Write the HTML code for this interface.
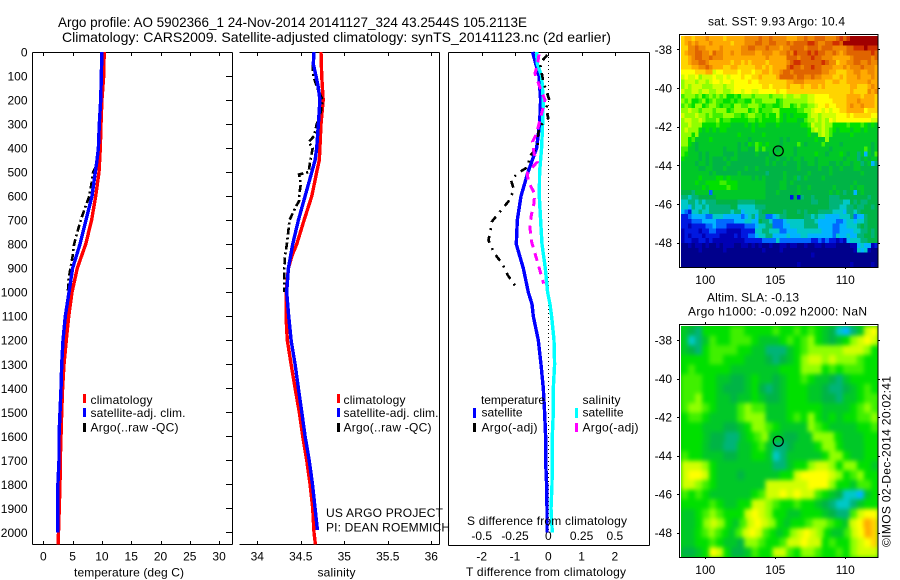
<!DOCTYPE html>
<html>
<head>
<meta charset="utf-8">
<title>Argo profile</title>
<style>
html,body{margin:0;padding:0;background:#fff;}
svg{display:block;}
text{font-family:"Liberation Sans",sans-serif;font-size:12px;fill:#000;}
.t{font-size:14px;}
.crisp{shape-rendering:crispEdges;}
</style>
</head>
<body>
<svg id="fig" xmlns="http://www.w3.org/2000/svg" width="900" height="580" viewBox="0 0 900 580">
<defs>
<clipPath id="clipSlaMap"><rect x="681" y="326" width="197" height="231"/></clipPath>
</defs>
<rect width="900" height="580" fill="#fff"/>
<text class="t" x="58" y="27" textLength="469" lengthAdjust="spacingAndGlyphs">Argo profile: AO 5902366_1 24-Nov-2014 20141127_324 43.2544S 105.2113E</text>
<text class="t" x="62" y="42" textLength="549" lengthAdjust="spacingAndGlyphs">Climatology: CARS2009. Satellite-adjusted climatology: synTS_20141123.nc (2d earlier)</text>

<g id="layerMaps"></g>
<g id="layerAxes"></g>
<g id="layerSeries"></g>

<g>
<rect class="crisp" x="83" y="394" width="3" height="9" fill="#f00"/>
<rect class="crisp" x="83" y="408" width="3" height="9" fill="#00f"/>
<rect class="crisp" x="83" y="423" width="3" height="9" fill="#000"/>
<text x="90.5" y="404" textLength="62">climatology</text>
<text x="90.5" y="417" textLength="95">satellite-adj. clim.</text>
<text x="90.5" y="431.5" textLength="88">Argo(..raw -QC)</text>
</g>
<g>
<rect class="crisp" x="337" y="394" width="3" height="9" fill="#f00"/>
<rect class="crisp" x="337" y="408" width="3" height="9" fill="#00f"/>
<rect class="crisp" x="337" y="423" width="3" height="9" fill="#000"/>
<text x="343.5" y="404" textLength="62">climatology</text>
<text x="343.5" y="417" textLength="95">satellite-adj. clim.</text>
<text x="343.5" y="431.5" textLength="88">Argo(..raw -QC)</text>
</g>
<g>
<text x="326" y="517" textLength="117">US ARGO PROJECT</text>
<text x="326" y="531.5" textLength="124">PI: DEAN ROEMMICH</text>
</g>
<g>
<text x="481" y="404" textLength="64">temperature</text>
<rect class="crisp" x="473" y="408" width="3" height="10" fill="#00f"/>
<rect class="crisp" x="473" y="423" width="3" height="9" fill="#000"/>
<text x="481.5" y="416.5" textLength="41">satellite</text>
<text x="481.5" y="431.5" textLength="56">Argo(-adj)</text>
<text x="582.5" y="404" textLength="38">salinity</text>
<rect class="crisp" x="575" y="408" width="3" height="10" fill="#0ff"/>
<rect class="crisp" x="575" y="423" width="3" height="9" fill="#f0f"/>
<text x="582.5" y="416.5" textLength="41">satellite</text>
<text x="582.5" y="431.5" textLength="56">Argo(-adj)</text>
</g>
<text x="467" y="525" textLength="160">S difference from climatology</text>
<text x="466" y="576" textLength="160">T difference from climatology</text>
<text x="74" y="576.5" textLength="110">temperature (deg C)</text>
<text x="317.5" y="576.5" textLength="38">salinity</text>
<text x="708" y="25.5" textLength="137">sat. SST: 9.93 Argo: 10.4</text>
<text x="707" y="301.5" textLength="92">Altim. SLA: -0.13</text>
<text x="688" y="315.5" textLength="179">Argo h1000: -0.092 h2000: NaN</text>
<text transform="translate(890.5,547) rotate(-90)" x="0" y="0" textLength="171">©IMOS 02-Dec-2014 20:02:41</text>
</svg>
<script>
// ---- profile data ----
const depthT = [0,100,200,300,400,450,500,600,700,800,900,1000,1100,1200,1300,1400,1500,1600,1700,1800,2000];
const tempSatellite = [10.0,9.9,9.8,9.56,9.4,9.16,8.88,8.31,7.29,6.26,5.0,4.39,3.76,3.36,3.14,3.02,2.85,2.68,2.68,2.5,2.5];
const depthTClim = [0,100,200,300,400,500,600,700,800,900,1000,1032,1100,1200,1300,1400,1500,1600,1700,1800,2000,2050];
const tempClim = [10.4,10.3,10.0,9.85,9.73,9.5,8.94,8.25,7.24,5.8,4.9,4.73,4.33,3.93,3.53,3.3,3.14,3.02,2.9,2.85,2.6,2.55];
const depthTArgo = [480,500,550,600,650,700,750,800,850,900,950,1000];
const tempArgo = [8.9,8.5,8.2,7.85,7.1,6.4,5.8,5.25,5.0,4.65,4.3,4.2];

const depthSSat = [0,50,100,150,200,300,400,450,500,600,700,800,900,1000,1100,1200,1300,1400,1500,1600,1700,1800,1900,1990];
const salSatellite = [34.652,34.644,34.675,34.702,34.72,34.702,34.683,34.664,34.626,34.549,34.472,34.407,34.357,34.338,34.361,34.388,34.434,34.472,34.511,34.549,34.596,34.634,34.664,34.691];
const depthSClim = [0,100,200,300,400,450,500,600,700,800,850,900,1000,1100,1200,1300,1400,1500,1600,1700,1800,1900,2000,2050];
const salClim = [34.732,34.74,34.758,34.732,34.72,34.713,34.683,34.626,34.538,34.453,34.396,34.357,34.33,34.33,34.345,34.388,34.434,34.483,34.522,34.568,34.607,34.637,34.652,34.668];
const depthSArgo = [50,100,150,200,250,300,350,375,400,450,500,510,550,600,620,650,700,800,850,900,950,1000];
const salArgo = [34.637,34.644,34.69,34.75,34.73,34.683,34.652,34.591,34.637,34.61,34.59,34.48,34.5,34.48,34.48,34.434,34.37,34.34,34.318,34.31,34.31,34.31];

const depthDiffT = [0,100,200,300,400,500,600,700,800,900,1000,1050,1100,1200,1300,1400,1500,1600,1700,1800,1900,2000];
const diffTSatellite = [-0.47,-0.28,-0.23,-0.26,-0.35,-0.61,-0.82,-0.93,-0.96,-0.75,-0.6,-0.49,-0.45,-0.3,-0.22,-0.15,-0.11,-0.08,-0.08,-0.05,-0.04,-0.04];
const depthDiffS = [0,50,100,200,300,400,500,600,700,800,900,1000,1050,1100,1200,1300,1400,1500,1600,1700,1800,1900,2000];
const diffSSatellite = [-0.0875,-0.0825,-0.05,-0.0375,-0.0425,-0.05,-0.065,-0.0675,-0.0575,-0.0475,-0.0225,-0.005,0.0125,0.025,0.0425,0.0475,0.0375,0.0375,0.03,0.03,0.0275,0.02,0.03];
const depthDiffSArgo = [10,50,89,137,200,283,339,373,422,457,505,540,589,630,686,735,790,853,901,964];
const diffSArgo = [-0.07,-0.08,-0.1,-0.07,-0.025,-0.0625,-0.0875,-0.1175,-0.1075,-0.0825,-0.1575,-0.15,-0.1025,-0.1075,-0.13,-0.1375,-0.125,-0.0925,-0.0675,-0.035];
const depthDiffTArgo = [12,47,124,200,235,276,311,367,394,436,478,503,533,575,623,665,707,742,783,839,881,929,978];
const diffTArgo = [-0.03,-0.25,-0.15,0.03,-0.07,0.0,-0.27,-0.33,-0.31,-0.57,-0.6,-0.9,-1.12,-1.03,-1.2,-1.45,-1.7,-1.73,-1.8,-1.62,-1.38,-1.22,-0.97];

// ---- tick labels ----
const depthTicks = [0,100,200,300,400,500,600,700,800,900,1000,1100,1200,1300,1400,1500,1600,1700,1800,1900,2000];
const tempTicks = [0,5,10,15,20,25,30];
const salTicks = [34,34.5,35,35.5,36];
const diffTTicks = [-2,-1,0,1,2];
const diffSTicks = [-0.5,-0.25,0,0.25,0.5];
const diffSTickLabels = ['-0.5','-0.25','0','0.25','0.5'];
const lonTicks = [100,105,110];
const latTicks = [-38,-40,-42,-44,-46,-48];

// ---- float location ----
const floatLon = 105.2113;
const floatLat = -43.2544;

// ---- heatmap levels: one character per cell, see levelColors ----
const levelColors = {
 '0':'#00008c','1':'#0000b4','2':'#0018e0','3':'#0068ff','4':'#00b4ff','5':'#00c8c8',
 '6':'#00b478','7':'#00b446','8':'#00c828','9':'#00e000','a':'#40f000','b':'#90ff00',
 'c':'#d0ff00','d':'#ffff00','e':'#ffd400','f':'#ffaa00','g':'#f08800','h':'#e06400',
 'i':'#d03000','j':'#a00000'
};
const sstRows = [
"effefffgffffefffffgggghgghggggfffgghgghhhggghihijjjjjjjj",
"efgfgfffgfffffefffggghhgghhggghghhhhiihgghhiihjjjjjjjjjj",
"eegghggffffgfffffgghhggghgggfgghhhhghhhghhhgggghhiiijiii",
"efgghhggfhggffgffggggffgggffgghgihhhihihhgghgfghhhhhhhih",
"eefghhgghgggffffffffffffgfffffhhhghhhihhgggfffffghhhhhgh",
"eefgghhgffffffeffefeffffefffffghiihhhhhhihggeffgghhgghgg",
"eeeffgghgfffeeffeeeeeffefeffffhihhghhihhgggfffgfggghgggf",
"ddddeeeffcddeeeedeeedeeffeffghhghhhhhhhhggffeeeffggffggf",
"cdccdbcccdccdcdddeddeefeeeefhhhhghhgghggfffeefefffgfffgf",
"bcccbccbcddcddcddddeddeeeeeeeeffgggffffffeeffeeffffffgff",
"bcbcccbbbcccbccddddddddeedeeeefeeefeeffefeeeeeeeffeeefgf",
"cbbccbccbbccbbcddcddccdddddeddeeeeeeeeeeeeeeeeeefeeeegfg",
"abbbab9ababab99a9bbbabbbbabbbcbbccbbccddddeeeeeffffefffe",
"bab99ab9abaa99a9aa99baabbbb9abbbbbbbccdddddeeeefffgffffe",
"aba9bb9abba9aa9bbaabbba9aa99abb9abaabbcddeddeeefgffgfffe",
"bbcbbabbbabbb9abbbb9ab9aaabb99999aabbcddcdcddeefffffdeee",
"cbbbcbbabaaabbbaa9abbaa9a99b98989999bccbccccdddedeeeeedd",
"bccbbcbaaab9aa99999aa9a9999a9899988abbcbcbdcddddddddddcc",
"bbcbbb9999a9998888989899888988888899acbbcbb9999a999a9898",
"bcbbb98989899888888898888888888888889bcbcba9899989989888",
"bbb9b8888888888898888889888888888888988bcba8888898888888",
"bb9a8888988888888887888888887878888888988b88888888888888",
"bb9878888888888878798a98988878888a878888a888878888888878",
"aa8878888888788878877a8a8887888878888888887888888888a878",
"a988878788887778777778777878888878888898878889878868487a",
"98888787877787887777777787787787887888788888887888678788",
"88887887877778777777777787877877787788788877878878867846",
"88888778877787777787787777777777787777787787787778877777",
"88888888787777778777777767777877777787777787777777787777",
"88888988889989888888787877777877867877778777777777777777",
"88889889999aa9998888888877778878777777777777777778777777",
"8888889899999a998888888877778877787787777778777787887777",
"77768888388888888888888877787777787777777787876774787777",
"66566777778888888888888877777772726776777766677777777677",
"55665656667777776666677777777777777776677766665576766777",
"55465565666666775555566677777777777777777766655667667767",
"43255655666666566455556777777677767677766665554665677777",
"22344443355544444345646633456677777665655444455563446777",
"22233344443333344455447665333455555666544444334554556777",
"22122223343332222233345566333445555666644443344555676777",
"12222122332221111222255665553344455555554443344445566767",
"12122212222111121223345566444454445544444443544544667767",
"12211221211111111122222333353333333332232322121455566777",
"00101101001011100110101001001101100100110111000011454412",
"00000100000010000000000100001000000000000000000001545100",
"00000000000000000000000000000000000001000000000000000000",
"00000000000000000000000000000000000000000000000000000000",
"00000000000000000000000000000000010000000000000010000010"
];
const slaRows = [
"8769999aa9999a99a9a9875468cd",
"8568a99aaa98889a9ab98789bcdc",
"8769aaaa998866689abbbbbcccb9",
"9999aa99988876789bccbcbbba99",
"9a999998888888999bbb9a9aaa99",
"aaa99887789887899a9887689999",
"aaa99877789767899988766789a9",
"aab99887889877899988776889aa",
"abba9888abaa8889999988889aba",
"9aa98888abbb8889a9b989899aab",
"9998887789bba98888ba9888899a",
"9998776689ab887788bbb988899",
"99987766889a86678889bb988899",
"a99888778899856888889bb98899",
"cccb98888888866899bccb9bb998",
"cddc988878888899cddddcb9ab99",
"ccba98888888ccccccdddb998aa9",
"a9a98888889accdcdcca98755489",
"9999a98899ccba99a99876556899",
"889aba999cdcb99889998766acdd",
"889bcb98acdcb9899abba98cdfe",
"889aba98acdca989bcdcb988acdfe",
"8899a9887bba99accdcc9a99bcde",
"7789dc9778a99cca9bba99a9bccc"
];

// ---- helpers and axis functions ----
const NS = 'http://www.w3.org/2000/svg';
const layerMaps = document.getElementById('layerMaps');
const layerAxes = document.getElementById('layerAxes');
const layerSeries = document.getElementById('layerSeries');
function mk(tag, attrs, parent) {
  const n = document.createElementNS(NS, tag);
  for (const k in attrs) n.setAttribute(k, attrs[k]);
  parent.appendChild(n);
  return n;
}
const yDepth = d => 52 + d * 0.2402;
const xTemp = v => 43.3 + v * 5.86;
const xSal = v => 257.3 + (v - 34) * 87;
const xDiffT = v => 548.3 + v * 33.3;
const xDiffS = v => 548.3 + v * 133.2;
const xLon = v => 775.3 + (v - 105) * 14;
const ySst = v => 49.3 + (-38 - v) * 19.34;
const ySla = v => 340 + (-38 - v) * 19.27;

function drawLine(xFn, xs, ds, color, width, dash, name) {
  const pts = ds.map((d, i) => xFn(xs[i]).toFixed(1) + ',' + yDepth(d).toFixed(1)).join(' ');
  const line = mk('polyline', {points: pts, fill: 'none', stroke: color, 'stroke-width': width, 'shape-rendering': 'crispEdges'}, layerSeries);
  if (dash) line.setAttribute('stroke-dasharray', dash);
  
  
}
function seg(x1, y1, x2, y2, parent) {
  const l = mk('line', {x1, y1, x2, y2, stroke: '#000', 'stroke-width': 1, 'shape-rendering': 'crispEdges'}, parent);
  
  
  return l;
}
function label(x, y, str, anchor) {
  const t = mk('text', {x, y, 'text-anchor': anchor}, layerAxes);
  t.textContent = str;
  
  
  return t;
}

// ---- panel frames ----
seg(32.5, 52.5, 232.5, 52.5, layerAxes);
seg(32.5, 544.5, 232.5, 544.5, layerAxes);
seg(32.5, 52.5, 32.5, 544.5, layerAxes);
seg(232.5, 52.5, 232.5, 544.5, layerAxes);
seg(239.5, 52.5, 439.5, 52.5, layerAxes);
seg(239.5, 544.5, 439.5, 544.5, layerAxes);
seg(439.5, 52.5, 439.5, 544.5, layerAxes);
seg(448.5, 52.5, 649.5, 52.5, layerAxes);
seg(448.5, 545.5, 649.5, 545.5, layerAxes);
seg(448.5, 52.5, 448.5, 545.5, layerAxes);
seg(649.5, 52.5, 649.5, 545.5, layerAxes);

// ---- ticks ----
depthTicks.forEach(d => {
  const y = Math.round(yDepth(d)) + 0.5;
  seg(226, y, 232, y, layerAxes);
  label(27.5, yDepth(d) + 4.5, String(d), 'end');
});
tempTicks.forEach(v => {
  const x = Math.round(xTemp(v)) + 0.5;
  seg(x, 52, x, 56, layerAxes);
  seg(x, 541, x, 545, layerAxes);
  label(xTemp(v), 560.5, String(v), 'middle');
});
salTicks.forEach(v => {
  const x = Math.round(xSal(v)) + 0.5;
  seg(x, 52, x, 56, layerAxes);
  seg(x, 541, x, 545, layerAxes);
  label(xSal(v), 560.5, String(v), 'middle');
});
diffTTicks.forEach(v => {
  const x = Math.round(xDiffT(v)) + 0.5;
  seg(x, 52, x, 56, layerAxes);
  label(xDiffT(v), 560.5, String(v), 'middle');
});
diffSTicks.forEach((v, i) => {
  label(xDiffS(v), 540, diffSTickLabels[i], 'middle');
});

// ---- zero line ----
const zeroLine = mk('line', {x1: xDiffT(0), y1: 53, x2: xDiffT(0), y2: yDepth(2000), stroke: '#000', 'stroke-width': 1, 'stroke-dasharray': '1 3', 'shape-rendering': 'crispEdges'}, layerAxes);



// ---- series ----
drawLine(xTemp, tempClim, depthTClim, '#f00', 3.4, null, 'temperature-climatology-line');
drawLine(xTemp, tempArgo, depthTArgo, '#000', 2.6, '7 3 2 3', 'temperature-argo-line');
drawLine(xTemp, tempSatellite, depthT, '#00f', 3.4, null, 'temperature-satellite-line');
drawLine(xSal, salClim, depthSClim, '#f00', 3.4, null, 'salinity-climatology-line');
drawLine(xSal, salArgo, depthSArgo, '#000', 2.6, '7 3 2 3', 'salinity-argo-line');
drawLine(xSal, salSatellite, depthSSat, '#00f', 3.4, null, 'salinity-satellite-line');
drawLine(xDiffT, diffTSatellite, depthDiffT, '#00f', 3.4, null, 'difference-t-satellite-line');
drawLine(xDiffS, diffSSatellite, depthDiffS, '#0ff', 3.4, null, 'difference-s-satellite-line');
drawLine(xDiffT, diffTArgo, depthDiffTArgo, '#000', 2.6, '7 6 2 6', 'difference-t-argo-line');
drawLine(xDiffS, diffSArgo, depthDiffSArgo, '#f0f', 3, '8 6', 'difference-s-argo-line');

// ---- heatmaps ----
function drawHeat(rows, parent, x0, y0, w, h, name) {
  const rowH = h / rows.length;
  rows.forEach((row, r) => {
    const colW = w / row.length;
    for (let c = 0; c < row.length; c++) {
      const cell = mk('rect', {x: x0 + c * colW, y: y0 + r * rowH, width: colW + 0.6, height: rowH + 0.6, fill: levelColors[row[c]]}, parent);
      
      
    }
  });
}
const sstGroup = mk('g', {'shape-rendering': 'crispEdges'}, layerMaps);


drawHeat(sstRows, sstGroup, 681, 36, 197, 231, 'sst-cell');

const slaClip = mk('g', {'clip-path': 'url(#clipSlaMap)'}, layerMaps);


const slaBack = mk('rect', {x: 681, y: 326, width: 197, height: 231, fill: '#00d000'}, slaClip);


const slaGroup = mk('g', {style: 'filter:blur(2px)'}, slaClip);


drawHeat(slaRows, slaGroup, 681, 326, 197, 231, 'sla-cell');

// ---- map frames, ticks, labels ----
function mapAxes(top, bottom, yFn, xLabelY, name) {
  const frame = mk('rect', {x: 679.5, y: top + 0.5, width: 198.5, height: bottom - top, fill: 'none', stroke: '#000', 'stroke-width': 1, 'shape-rendering': 'crispEdges'}, layerAxes);
  
  
  lonTicks.forEach(v => {
    const x = Math.round(xLon(v)) + 0.5;
    seg(x, top - 2, x, top, layerAxes);
    seg(x, bottom, x, bottom + 2, layerAxes);
    label(xLon(v), xLabelY, String(v), 'middle');
  });
  latTicks.forEach(v => {
    const y = Math.round(yFn(v)) + 0.5;
    seg(677, y, 679, y, layerAxes);
    seg(878, y, 880, y, layerAxes);
    label(672, yFn(v) + 4.5, String(v), 'end');
  });
  const circle = mk('circle', {cx: xLon(floatLon), cy: yFn(floatLat), r: 5, fill: 'none', stroke: '#000', 'stroke-width': 1.2}, layerAxes);
  
  
}
mapAxes(34, 267, ySst, 284, 'sst-map-frame');
mapAxes(324, 557, ySla, 574, 'sla-map-frame');
</script>
</body>
</html>
